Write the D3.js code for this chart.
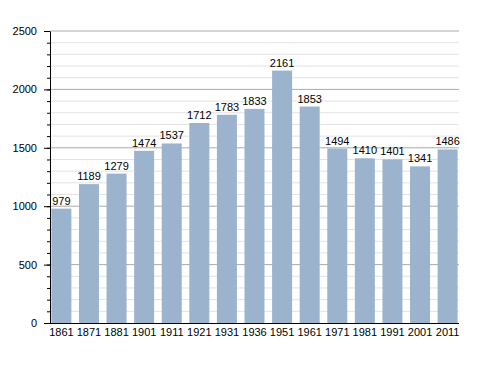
<!doctype html>
<html>
<head>
  <meta charset="utf-8">
  <script src="https://cdnjs.cloudflare.com/ajax/libs/d3/7.8.5/d3.min.js"></script>
  <style>
    body { margin: 0; background: white; }
    text { font-family: 'Liberation Sans', Arial, sans-serif; font-size: 11px; fill: #000; }
  </style>
</head>
<body>
  <script>
    const years = ['1861','1871','1881','1901','1911','1921','1931','1936','1951','1961','1971','1981','1991','2001','2011'];
    const population = [979,1189,1279,1474,1537,1712,1783,1833,2161,1853,1494,1410,1401,1341,1486];
    const majorTicks = [0,500,1000,1500,2000,2500];
    const minorTicks = d3.range(0, 2501, 100);

    const width = 488, height = 373;
    const margin = {left: 50, right: 29, top: 31, bottom: 50};

    const svg = d3.select('body').append('svg')
      .attr('width', width)
      .attr('height', height);

    const x = d3.scaleBand()
      .domain(years)
      .range([margin.left, width - margin.right])
      .paddingInner(0.275)
      .paddingOuter(0.05);

    const y = d3.scaleLinear()
      .domain([0, 2500])
      .range([height - margin.bottom, margin.top]);

    // grid
    svg.append('g').selectAll('line')
      .data(minorTicks.filter(d => d % 500 !== 0))
      .join('line')
      .attr('x1', margin.left).attr('x2', width - margin.right)
      .attr('y1', d => y(d)).attr('y2', d => y(d))
      .attr('stroke', '#e2e2e2').attr('stroke-width', 1);

    svg.append('g').selectAll('line')
      .data(majorTicks.filter(d => d > 0))
      .join('line')
      .attr('x1', margin.left).attr('x2', width - margin.right)
      .attr('y1', d => y(d)).attr('y2', d => y(d))
      .attr('stroke', '#aaaaaa').attr('stroke-width', 1);

    // bars
    svg.append('g').selectAll('rect')
      .data(population)
      .join('rect')
      .attr('x', (d, i) => x(years[i]))
      .attr('y', d => y(d))
      .attr('width', x.bandwidth())
      .attr('height', d => y(0) - y(d))
      .attr('fill', '#9cb3cd');

    // value labels
    svg.append('g').selectAll('text')
      .data(population)
      .join('text')
      .attr('x', (d, i) => x(years[i]) + x.bandwidth() / 2)
      .attr('y', d => y(d) - 4)
      .attr('text-anchor', 'middle')
      .text(d => d);

    // y axis minor ticks
    svg.append('g')
      .attr('transform', `translate(${margin.left},0)`)
      .call(d3.axisLeft(y).tickValues(minorTicks).tickSize(3).tickFormat(''))
      .call(g => g.select('.domain').remove());

    svg.append('g')
      .attr('transform', `translate(${margin.left},0)`)
      .call(d3.axisLeft(y).tickValues(majorTicks).tickSize(6).tickPadding(7).tickSizeOuter(0).tickFormat(d3.format('d')))
      .call(g => g.selectAll('text').style('font-size', '11px').style('font-family', "'Liberation Sans', Arial, sans-serif"));

    // x axis
    svg.append('g')
      .attr('transform', `translate(0,${y(0)})`)
      .call(d3.axisBottom(x).tickSize(0).tickPadding(5).tickSizeOuter(0))
      .call(g => g.select('.domain').attr('d', `M${margin.left},0.5H${width - margin.right}`))
      .call(g => g.selectAll('text').style('font-size', '11px').style('font-family', "'Liberation Sans', Arial, sans-serif"));
  </script>
</body>
</html>
